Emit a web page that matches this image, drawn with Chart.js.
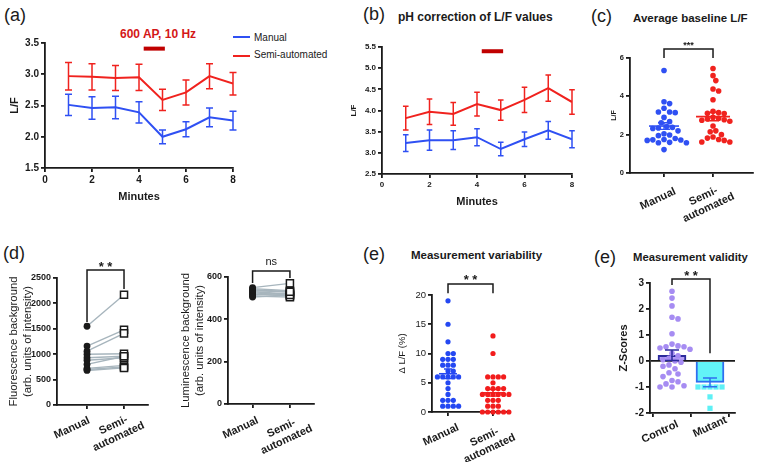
<!DOCTYPE html>
<html>
<head>
<meta charset="utf-8">
<script src="https://cdn.jsdelivr.net/npm/chart.js@4.4.1/dist/chart.umd.min.js"></script>
<style>
  body { margin: 0; width: 758px; height: 462px; position: relative; overflow: hidden; background: #fff;
         font-family: "Liberation Sans", Arial, sans-serif; color: #1a1a1a; }
  canvas { position: absolute; }
  .tag { position: absolute; font-size: 18px; line-height: 1; white-space: nowrap; }
  .ttl { position: absolute; font-weight: bold; line-height: 1; white-space: nowrap; }
  .key { position: absolute; font-size: 10px; line-height: 1; white-space: nowrap; }
  .swatch { position: absolute; width: 17px; height: 2px; }
</style>
</head>
<body>

<div class="tag" style="left:4px;top:6px">(a)</div>
<div class="ttl" style="left:120px;top:28px;font-size:12px;color:#d41717">600 AP, 10 Hz</div>
<div class="swatch" style="left:233px;top:36px;background:#2f50f3"></div>
<div class="key" style="left:254px;top:33px">Manual</div>
<div class="swatch" style="left:233px;top:55px;background:#f0221e"></div>
<div class="key" style="left:254px;top:50px">Semi-automated</div>

<div class="tag" style="left:363px;top:5px">(b)</div>
<div class="ttl" style="left:398px;top:11px;font-size:12px">pH correction of L/F values</div>

<div class="tag" style="left:591px;top:7px">(c)</div>
<div class="ttl" style="left:633px;top:13px;font-size:11.5px">Average baseline L/F</div>

<div class="tag" style="left:3px;top:244px">(d)</div>

<div class="tag" style="left:363px;top:245px">(e)</div>
<div class="ttl" style="left:411px;top:250px;font-size:11.5px">Measurement variability</div>

<div class="tag" style="left:594px;top:248px">(e)</div>
<div class="ttl" style="left:633px;top:252px;font-size:11.3px">Measurement validity</div>

<canvas id="cA" width="250" height="208" style="left:0;top:0"></canvas>
<canvas id="cB" width="260" height="213" style="left:330px;top:0"></canvas>
<canvas id="cC" width="168" height="232" style="left:590px;top:0"></canvas>
<canvas id="cD1" width="160" height="232" style="left:0;top:230px"></canvas>
<canvas id="cD2" width="150" height="232" style="left:170px;top:230px"></canvas>
<canvas id="cE1" width="150" height="232" style="left:380px;top:230px"></canvas>
<canvas id="cE2" width="158" height="232" style="left:600px;top:230px"></canvas>

<script>
// ---- data ----
const minutes = [1, 2, 3, 4, 5, 6, 7, 8];
const stimWindow = [4.2, 5.1];

const lfManual    = [2.51, 2.46, 2.47, 2.39, 2.00, 2.12, 2.31, 2.26];
const lfManualErr = [0.17, 0.18, 0.18, 0.17, 0.11, 0.12, 0.15, 0.15];
const lfSemi      = [2.97, 2.96, 2.94, 2.95, 2.59, 2.71, 2.97, 2.85];
const lfSemiErr   = [0.22, 0.21, 0.20, 0.21, 0.17, 0.20, 0.20, 0.18];

const phManual    = [3.23, 3.30, 3.30, 3.37, 3.09, 3.32, 3.53, 3.32];
const phManualErr = [0.20, 0.24, 0.22, 0.20, 0.16, 0.17, 0.21, 0.20];
const phSemi      = [3.82, 3.97, 3.92, 4.15, 4.01, 4.25, 4.53, 4.20];
const phSemiErr   = [0.28, 0.30, 0.27, 0.28, 0.24, 0.30, 0.31, 0.29];

const baseManual = [5.35, 3.72, 3.62, 3.38, 3.18, 3.18, 3.15, 2.90, 2.68, 2.62, 2.42, 2.38, 2.35, 2.32,
                    2.20, 2.05, 1.98, 1.95, 1.80, 1.75, 1.73, 1.72, 1.70, 1.58, 1.58, 1.60, 1.22];
const baseSemi   = [5.45, 5.08, 4.82, 4.38, 4.28, 3.82, 3.22, 3.15, 3.10, 3.12, 2.90, 2.85, 2.82,
                    2.78, 2.75, 2.70, 2.45, 2.20, 2.15, 2.00, 1.88, 1.82, 1.75, 1.70, 1.62, 1.62];

const fluorManual = [1550, 1160, 1060, 1000, 930, 880, 800, 720, 700, 680];
const fluorSemi   = [2170, 1480, 1410, 1010, 960, 930, 960, 780, 750, 730];
const lumManual   = [550, 545, 535, 530, 525, 520, 515, 510, 505, 540];
const lumSemi     = [570, 535, 530, 520, 515, 510, 525, 505, 515, 530];

const varManual = [19, 15, 12, 10, 10, 9, 9, 9, 8, 8, 8, 7, 7, 6, 6, 6, 6, 6, 5, 4, 3, 2, 2, 2, 1, 1, 1, 1];
const varSemi   = [13, 10, 6, 6, 6, 6, 5, 4, 4, 4, 4, 3, 3, 3, 3, 3, 3, 2, 2, 2, 1, 1, 1, 0, 0, 0, 0, 0, 0];

const zControl = [2.68, 2.42, 2.12, 1.68, 1.62, 1.05, 0.65, 0.58, 0.55, 0.55, 0.50, 0.45, 0.30, 0.20, 0.10,
                  0.05, 0.00, -0.05, -0.15, -0.20, -0.30, -0.45, -0.50, -0.60, -0.75, -0.80, -0.88, -0.95, -1.00, -1.00];
const zMutant  = [-1.00, -1.00, -1.00, -1.00, -1.00, -1.38, -1.82];
const zMean    = [0.22, -0.82];
const zErr     = [0.20, 0.17];

const methodLabels = ['Manual', ['Semi-', 'automated']];
const groupLabels  = ['Control', 'Mutant'];

// ---- styles ----
const INK = '#1a1a1a';
const BLUE = '#2f50f3';
const RED = '#f0221e';
const FAM = '"Liberation Sans", Arial, sans-serif';

Chart.defaults.font.family = FAM;
Chart.defaults.color = INK;

// error bars, mean +/- SEM, brackets, stimulus bar, slanted group labels
function whisker(ctx, x, y1, y2, cap, color, w) {
    ctx.strokeStyle = color;
    ctx.lineWidth = w;
    ctx.beginPath();
    ctx.moveTo(x, y1); ctx.lineTo(x, y2);
    ctx.moveTo(x - cap, y1); ctx.lineTo(x + cap, y1);
    ctx.moveTo(x - cap, y2); ctx.lineTo(x + cap, y2);
    ctx.stroke();
}

const extras = {
    id: 'extras',
    afterDatasetsDraw(chart, args, opts) {
        const ctx = chart.ctx, xs = chart.scales.x, ys = chart.scales.y;
        ctx.save();
        chart.data.datasets.forEach((ds, di) => {
            const meta = chart.getDatasetMeta(di);
            if (ds.errors) {
                meta.data.forEach((el, i) => {
                    const v = ds.data[i].y, e = ds.errors[i];
                    const c = Array.isArray(ds.errColor) ? ds.errColor[i] : (ds.errColor || ds.borderColor);
                    whisker(ctx, el.x, ys.getPixelForValue(v + e), ys.getPixelForValue(v - e), ds.capHalf || 3.5, c, 1.5);
                });
            }
            if (ds.meanHalf) {
                const vals = ds.data.map(p => p.y), n = vals.length;
                const mean = vals.reduce((a, b) => a + b, 0) / n;
                const sem = Math.sqrt(vals.reduce((a, b) => a + (b - mean) ** 2, 0) / (n - 1) / n);
                const cx = xs.getPixelForValue(ds.center), my = ys.getPixelForValue(mean);
                ctx.strokeStyle = ds.backgroundColor;
                ctx.lineWidth = 1.6;
                ctx.beginPath();
                ctx.moveTo(cx - ds.meanHalf, my); ctx.lineTo(cx + ds.meanHalf, my);
                ctx.stroke();
                whisker(ctx, cx, ys.getPixelForValue(mean + sem), ys.getPixelForValue(mean - sem), ds.capHalf, ds.backgroundColor, 1.4);
            }
        });
        const b = opts.bracket;
        if (b) {
            const x1 = xs.getPixelForValue(b.x1), x2 = xs.getPixelForValue(b.x2), yt = ys.getPixelForValue(b.top);
            ctx.strokeStyle = INK;
            ctx.lineWidth = 1.5;
            ctx.beginPath();
            ctx.moveTo(x1, ys.getPixelForValue(b.left));
            ctx.lineTo(x1, yt); ctx.lineTo(x2, yt);
            ctx.lineTo(x2, ys.getPixelForValue(b.right));
            ctx.stroke();
            ctx.fillStyle = INK;
            ctx.font = b.font;
            ctx.textAlign = 'center';
            ctx.textBaseline = 'alphabetic';
            ctx.fillText(b.text, (x1 + x2) / 2, yt - b.dy);
        }
        const s = opts.stim;
        if (s) {
            const x1 = xs.getPixelForValue(s.from), x2 = xs.getPixelForValue(s.to);
            ctx.fillStyle = '#c00000';
            ctx.fillRect(x1, ys.getPixelForValue(s.y) - 2, x2 - x1, 4);
        }
        const xl = opts.xlabels;
        if (xl) {
            ctx.fillStyle = INK;
            ctx.font = 'bold 11px ' + FAM;
            ctx.textAlign = 'center';
            ctx.textBaseline = 'middle';
            xl.labels.forEach((lab, i) => {
                const lines = [].concat(lab);
                ctx.save();
                ctx.translate(xs.getPixelForValue(i + 1) + xl.dx[i], chart.chartArea.bottom + xl.dy[i]);
                ctx.rotate(-25 * Math.PI / 180);
                lines.forEach((t, k) => ctx.fillText(t, 0, (k - (lines.length - 1) / 2) * 12.5));
                ctx.restore();
            });
        }
        ctx.restore();
    }
};
Chart.register(extras);

// spread dots sideways so they don't overlap (beeswarm), using the chart's own scales
function swarm(chart, gap) {
    const xs = chart.scales.x, ys = chart.scales.y;
    chart.data.datasets.forEach(ds => {
        if (ds.center === undefined) return;
        const cx = xs.getPixelForValue(ds.center);
        const placed = [];
        const order = ds.data.map((p, i) => i).sort((a, b) => ds.data[b].y - ds.data[a].y);
        order.forEach(i => {
            const py = ys.getPixelForValue(ds.data[i].y);
            for (let k = 0; k < 60; k++) {
                const off = (k % 2 ? 1 : -1) * Math.ceil(k / 2) * gap / 2;
                const px = cx + off;
                if (placed.every(p => Math.hypot(p[0] - px, p[1] - py) >= gap * 0.98)) {
                    placed.push([px, py]);
                    ds.data[i].x = xs.getValueForPixel(px);
                    break;
                }
            }
        });
    });
    chart.update('none');
}

function axis(o) {
    const base = {
        type: 'linear',
        border: { color: INK, width: 1.8 },
        grid: { drawOnChartArea: false, color: INK, lineWidth: 1.8, tickLength: 4 }
    };
    return Object.assign(base, o);
}

// x axis with two groups at 1 and 2; labels are drawn slanted by the plugin
function groupAxis(min, max, h) {
    return axis({
        min: min, max: max, offset: false,
        afterBuildTicks: s => { s.ticks = [{ value: 1 }, { value: 2 }]; },
        ticks: { display: false },
        afterFit: s => { s.height = h; }
    });
}

function baseOptions(pad, scales, extra) {
    return {
        responsive: false,
        animation: false,
        layout: { padding: { top: pad[0], right: pad[1], bottom: 0, left: 0 } },
        plugins: { legend: { display: false }, tooltip: { enabled: false }, extras: extra || {} },
        scales: scales
    };
}

// ---- (a) and (b): L/F time courses ----
function timeCourse(id, manual, manualErr, semi, semiErr, o) {
    const pts = vals => minutes.map((m, i) => ({ x: m, y: vals[i] }));
    return new Chart(document.getElementById(id), {
        type: 'line',
        data: { datasets: [
            { data: pts(semi), errors: semiErr, borderColor: RED, borderWidth: 2, pointRadius: 0, capHalf: o.cap },
            { data: pts(manual), errors: manualErr, borderColor: BLUE, borderWidth: 2, pointRadius: 0, capHalf: o.cap }
        ] },
        options: baseOptions(o.pad, {
            x: axis({ min: 0, max: 8,
                      ticks: { stepSize: 2, font: o.tickFont, padding: 2 },
                      title: { display: true, text: 'Minutes', font: { size: 11, weight: 'bold' }, padding: { top: 0, bottom: 4 } },
                      afterFit: s => { s.height = o.xh; } }),
            y: axis({ min: o.yMin, max: o.yMax,
                      ticks: { stepSize: 0.5, font: o.tickFont, padding: 2, callback: v => v.toFixed(1) },
                      title: { display: true, text: 'L/F', font: o.yTitleFont, padding: { top: o.yTitlePad } },
                      afterFit: s => { s.width = o.yw; } })
        }, { stim: { from: stimWindow[0], to: stimWindow[1], y: o.stimY } })
    });
}

timeCourse('cA', lfManual, lfManualErr, lfSemi, lfSemiErr, {
    pad: [43, 17], xh: 40, yw: 45, yMin: 1.5, yMax: 3.5, stimY: 3.41, cap: 3.5,
    tickFont: { size: 10, weight: 'bold' }, yTitleFont: { size: 11, weight: 'bold' }, yTitlePad: 8
});
timeCourse('cB', phManual, phManualErr, phSemi, phSemiErr, {
    pad: [47, 18], xh: 39, yw: 52, yMin: 2.5, yMax: 5.5, stimY: 5.4, cap: 2.8,
    tickFont: { size: 8, weight: 'bold' }, yTitleFont: { size: 8, weight: 'bold' }, yTitlePad: 19
});

// ---- (c) average baseline ----
const cChart = new Chart(document.getElementById('cC'), {
    type: 'scatter',
    data: { datasets: [
        { data: baseManual.map(v => ({ x: 1, y: v })), center: 1, backgroundColor: BLUE, borderWidth: 0,
          pointRadius: 2.8, meanHalf: 15, capHalf: 6, clip: false },
        { data: baseSemi.map(v => ({ x: 2, y: v })), center: 2, backgroundColor: RED, borderWidth: 0,
          pointRadius: 2.8, meanHalf: 17, capHalf: 6, clip: false }
    ] },
    options: baseOptions([58, 5], {
        x: groupAxis(0.306, 2.816, 59),
        y: axis({ min: 0, max: 6, ticks: { stepSize: 2, font: { size: 7.5, weight: 'bold' }, padding: 2 },
                  title: { display: true, text: 'L/F', font: { size: 7, weight: 'bold' }, padding: { top: 20 } },
                  afterFit: s => { s.width = 40; } })
    }, {
        bracket: { x1: 1, x2: 2, top: 6.47, left: 6.0, right: 6.0, text: '***', font: 'bold 9px ' + FAM, dy: 1 },
        xlabels: { labels: methodLabels, dx: [-6, -7], dy: [26, 29] }
    })
});
swarm(cChart, 5.6);

// ---- (d) paired backgrounds ----
function pairChart(id, manual, semi, o) {
    const links = manual.map((m, i) => ({
        type: 'line', data: [{ x: 1, y: m }, { x: 2, y: semi[i] }],
        borderColor: '#a7b5bd', borderWidth: 1.4, pointRadius: 0, order: 3
    }));
    return new Chart(document.getElementById(id), {
        type: 'scatter',
        data: { datasets: links.concat([
            { data: semi.map(v => ({ x: 2, y: v })), pointStyle: 'rect', pointRadius: 5, backgroundColor: '#fff',
              borderColor: INK, borderWidth: 1.5, order: 1, clip: false },
            { data: manual.map(v => ({ x: 1, y: v })), pointStyle: 'circle', pointRadius: 3.4, backgroundColor: INK,
              borderColor: INK, borderWidth: 0, order: 1, clip: false }
        ]) },
        options: baseOptions(o.pad, {
            x: groupAxis(o.xMin, o.xMax, o.xh),
            y: axis({ min: 0, max: o.yMax,
                      ticks: { stepSize: o.step, font: { size: 9, weight: 'bold' }, padding: 2, callback: v => String(v) },
                      title: { display: true, text: o.title, font: { size: 11.3, lineHeight: 1.22 }, padding: { top: o.tp } },
                      afterFit: s => { s.width = o.yw; } })
        }, { bracket: o.bracket, xlabels: o.xlabels })
    });
}

pairChart('cD1', fluorManual, fluorSemi, {
    pad: [48, 12], xh: 57, yw: 57, xMin: 0.189, xMax: 2.648, yMax: 2500, step: 500, tp: 7,
    title: ['Fluorescence background', '(arb. units of intensity)'],
    bracket: { x1: 1, x2: 2, top: 2657, left: 1634, right: 2283, text: '* *', font: 'bold 13px ' + FAM, dy: -1 },
    xlabels: { labels: methodLabels, dx: [-15, -8], dy: [23, 26] }
});
pairChart('cD2', lumManual, lumSemi, {
    pad: [47, 5], xh: 58, yw: 58, xMin: 0.342, xMax: 2.631, yMax: 600, step: 200, tp: 9,
    title: ['Luminescence background', '(arb. units of intensity)'],
    bracket: { x1: 1, x2: 2, top: 628, left: 572, right: 595, text: 'ns', font: '11px ' + FAM, dy: 6 },
    xlabels: { labels: methodLabels, dx: [-12, -6], dy: [24, 30] }
});

// ---- (e) measurement variability ----
const eChart = new Chart(document.getElementById('cE1'), {
    type: 'scatter',
    data: { datasets: [
        { data: varManual.map(v => ({ x: 1, y: v })), center: 1, backgroundColor: '#2448f2', borderWidth: 0,
          pointRadius: 2.6, meanHalf: 9, capHalf: 4, clip: false },
        { data: varSemi.map(v => ({ x: 2, y: v })), center: 2, backgroundColor: '#f21c1c', borderWidth: 0,
          pointRadius: 2.6, meanHalf: 10, capHalf: 4, clip: false }
    ] },
    options: baseOptions([65, 21], {
        x: groupAxis(0.644, 2.356, 50),
        y: axis({ min: 0, max: 20, ticks: { stepSize: 5, font: { size: 9.5 }, padding: 2 },
                  title: { display: true, text: 'Δ L/F (%)', font: { size: 9.5 }, padding: { top: 17 } },
                  afterFit: s => { s.width = 52; } })
    }, {
        bracket: { x1: 1, x2: 2, top: 21.9, left: 20.3, right: 20.3, text: '* *', font: 'bold 13px ' + FAM, dy: 0 },
        xlabels: { labels: methodLabels, dx: [-7, -6], dy: [23, 31] }
    })
});
swarm(eChart, 5.3);

// ---- (e) measurement validity ----
const vChart = new Chart(document.getElementById('cE2'), {
    type: 'scatter',
    data: { datasets: [
        { type: 'bar', data: zMean.map((v, i) => ({ x: i + 1, y: v })), errors: zErr,
          backgroundColor: ['#b6a0f5', '#62f3f7'], borderColor: ['#2b2a9c', '#2f6ff0'], borderWidth: 2,
          errColor: ['#2b2a9c', '#2f6ff0'], capHalf: 7, barThickness: 28, order: 2 },
        { data: zControl.map(v => ({ x: 1, y: v })), center: 1, backgroundColor: '#a68cf2', borderWidth: 0,
          pointRadius: 2.8, order: 1, clip: false },
        { data: zMutant.map(v => ({ x: 2, y: v })), center: 2, backgroundColor: '#5ef0f5', borderWidth: 0,
          pointStyle: 'rect', pointRadius: 3.7, order: 1, clip: false }
    ] },
    options: baseOptions([53, 23], {
        x: groupAxis(0.421, 2.658, 49),
        y: axis({ min: -2, max: 3,
                  grid: { drawOnChartArea: true, tickLength: 4, lineWidth: 1.8, tickColor: INK,
                          color: c => (c.tick && c.tick.value === 0) ? INK : 'rgba(0,0,0,0)' },
                  ticks: { stepSize: 1, font: { size: 10, weight: 'bold' }, padding: 2 },
                  title: { display: true, text: 'Z-Scores', font: { size: 11, weight: 'bold' }, padding: { top: 17 } },
                  afterFit: s => { s.width = 50; } })
    }, {
        bracket: { x1: 1, x2: 2, top: 3.15, left: 2.92, right: 0.3, text: '* *', font: 'bold 13px ' + FAM, dy: -1 },
        xlabels: { labels: groupLabels, dx: [-12, 0], dy: [19, 14] }
    })
});
swarm(vChart, 6);
</script>
</body>
</html>
